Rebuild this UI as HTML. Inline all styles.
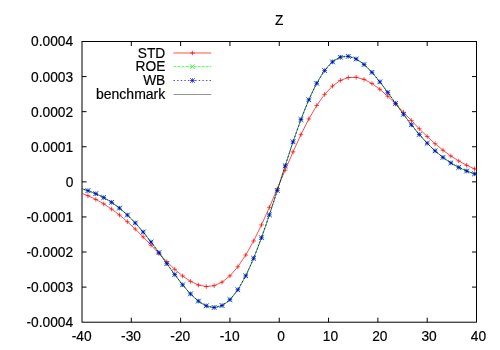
<!DOCTYPE html><html><head><meta charset="utf-8"><style>html,body{margin:0;padding:0;background:#fff}svg{display:block;filter:blur(0.35px)}text{font-family:"Liberation Sans",sans-serif;font-size:13.75px;fill:#000;stroke:#000;stroke-width:0.18px}</style></head><body>
<svg width="500" height="350" viewBox="0 0 500 350">
<rect width="500" height="350" fill="#fff"/>
<defs><clipPath id="c"><rect x="82.0" y="41.5" width="394.5" height="280.7"/></clipPath></defs>
<path d="M131.31,322.20 v-4.5 M131.31,41.50 v4.5 M82.00,76.59 h4.5 M476.50,76.59 h-4.5 M180.62,322.20 v-4.5 M180.62,41.50 v4.5 M82.00,111.67 h4.5 M476.50,111.67 h-4.5 M229.94,322.20 v-4.5 M229.94,41.50 v4.5 M82.00,146.76 h4.5 M476.50,146.76 h-4.5 M279.25,322.20 v-4.5 M279.25,41.50 v4.5 M82.00,181.85 h4.5 M476.50,181.85 h-4.5 M328.56,322.20 v-4.5 M328.56,41.50 v4.5 M82.00,216.94 h4.5 M476.50,216.94 h-4.5 M377.88,322.20 v-4.5 M377.88,41.50 v4.5 M82.00,252.02 h4.5 M476.50,252.02 h-4.5 M427.19,322.20 v-4.5 M427.19,41.50 v4.5 M82.00,287.11 h4.5 M476.50,287.11 h-4.5" stroke="#000" stroke-width="1" fill="none"/>
<rect x="82.0" y="41.5" width="394.5" height="280.7" fill="none" stroke="#000" stroke-width="1"/>
<text x="73.1" y="46.2" text-anchor="end">0.0004</text>
<text x="73.1" y="81.6" text-anchor="end">0.0003</text>
<text x="73.1" y="116.7" text-anchor="end">0.0002</text>
<text x="73.1" y="151.8" text-anchor="end">0.0001</text>
<text x="73.5" y="186.6" text-anchor="end">0</text>
<text x="73.1" y="221.7" text-anchor="end">-0.0001</text>
<text x="73.1" y="256.8" text-anchor="end">-0.0002</text>
<text x="73.1" y="291.9" text-anchor="end">-0.0003</text>
<text x="73.1" y="326.9" text-anchor="end">-0.0004</text>
<text x="81.7" y="340.7" text-anchor="middle">-40</text>
<text x="131.0" y="340.7" text-anchor="middle">-30</text>
<text x="180.3" y="340.7" text-anchor="middle">-20</text>
<text x="229.6" y="340.7" text-anchor="middle">-10</text>
<text x="281.1" y="340.7" text-anchor="middle">0</text>
<text x="330.5" y="340.7" text-anchor="middle">10</text>
<text x="379.8" y="340.7" text-anchor="middle">20</text>
<text x="429.1" y="340.7" text-anchor="middle">30</text>
<text x="478.4" y="340.7" text-anchor="middle">40</text>
<text x="279.2" y="25.3" text-anchor="middle">Z</text>
<text x="165.3" y="57.5" text-anchor="end">STD</text>
<text x="165.3" y="71.4" text-anchor="end">ROE</text>
<text x="165.3" y="85.1" text-anchor="end">WB</text>
<text x="165.3" y="99.4" text-anchor="end" style="font-size:14.02px">benchmark</text>
<g fill="none" stroke-width="0.7">
<path d="M173.5,53 H211.3" stroke="#f00"/>
<path d="M190.10,53.00 h4.60 M192.40,50.70 v4.60" stroke="#f00"/>
<path d="M173.5,66.65 H211.3" stroke="#0f0" stroke-dasharray="2.9,1.15"/>
<path d="M190.10,64.35 l4.60,4.60 M190.10,68.95 l4.60,-4.60" stroke="#0f0"/>
<path d="M173.5,80.5 H211.3" stroke="#00f" stroke-dasharray="1.5,2.1"/>
<path d="M190.10,80.50 h4.60 M192.40,78.20 v4.60 M190.10,78.20 l4.60,4.60 M190.10,82.80 l4.60,-4.60" stroke="#00f"/>
<path d="M173.5,94.5 H211.3" stroke="#000" stroke-width="0.42"/>
<g clip-path="url(#c)">
<path d="M80.03,192.61 L87.92,195.70 L95.81,199.44 L103.70,203.89 L111.59,209.08 L119.48,215.03 L127.37,221.72 L135.26,229.07 L143.15,236.95 L151.04,245.18 L158.93,253.53 L166.82,261.68 L174.71,269.30 L182.60,276.00 L190.49,281.37 L198.38,285.01 L206.27,286.56 L214.16,285.68 L222.05,282.16 L229.94,275.87 L237.83,266.79 L245.72,255.07 L253.61,240.97 L261.50,224.89 L269.39,207.32 L277.28,188.87 L285.17,170.17 L293.06,151.88 L300.95,134.63 L308.84,119.00 L316.73,105.46 L324.62,94.38 L332.51,86.00 L340.40,80.40 L348.29,77.56 L356.18,77.31 L364.07,79.41 L371.96,83.52 L379.85,89.26 L387.74,96.23 L395.63,104.02 L403.52,112.25 L411.41,120.60 L419.30,128.76 L427.19,136.53 L435.08,143.72 L442.97,150.22 L450.86,155.99 L458.75,160.99 L466.64,165.26 L474.53,168.83 L482.42,171.77" stroke="#f00"/>
<path d="M77.73,192.61 h4.60 M80.03,190.31 v4.60 M85.62,195.70 h4.60 M87.92,193.40 v4.60 M93.51,199.44 h4.60 M95.81,197.14 v4.60 M101.40,203.89 h4.60 M103.70,201.59 v4.60 M109.29,209.08 h4.60 M111.59,206.78 v4.60 M117.18,215.03 h4.60 M119.48,212.73 v4.60 M125.07,221.72 h4.60 M127.37,219.42 v4.60 M132.96,229.07 h4.60 M135.26,226.77 v4.60 M140.85,236.95 h4.60 M143.15,234.65 v4.60 M148.74,245.18 h4.60 M151.04,242.88 v4.60 M156.63,253.53 h4.60 M158.93,251.23 v4.60 M164.52,261.68 h4.60 M166.82,259.38 v4.60 M172.41,269.30 h4.60 M174.71,267.00 v4.60 M180.30,276.00 h4.60 M182.60,273.70 v4.60 M188.19,281.37 h4.60 M190.49,279.07 v4.60 M196.08,285.01 h4.60 M198.38,282.71 v4.60 M203.97,286.56 h4.60 M206.27,284.26 v4.60 M211.86,285.68 h4.60 M214.16,283.38 v4.60 M219.75,282.16 h4.60 M222.05,279.86 v4.60 M227.64,275.87 h4.60 M229.94,273.57 v4.60 M235.53,266.79 h4.60 M237.83,264.49 v4.60 M243.42,255.07 h4.60 M245.72,252.77 v4.60 M251.31,240.97 h4.60 M253.61,238.67 v4.60 M259.20,224.89 h4.60 M261.50,222.59 v4.60 M267.09,207.32 h4.60 M269.39,205.02 v4.60 M274.98,188.87 h4.60 M277.28,186.57 v4.60 M282.87,170.17 h4.60 M285.17,167.87 v4.60 M290.76,151.88 h4.60 M293.06,149.58 v4.60 M298.65,134.63 h4.60 M300.95,132.33 v4.60 M306.54,119.00 h4.60 M308.84,116.70 v4.60 M314.43,105.46 h4.60 M316.73,103.16 v4.60 M322.32,94.38 h4.60 M324.62,92.08 v4.60 M330.21,86.00 h4.60 M332.51,83.70 v4.60 M338.10,80.40 h4.60 M340.40,78.10 v4.60 M345.99,77.56 h4.60 M348.29,75.26 v4.60 M353.88,77.31 h4.60 M356.18,75.01 v4.60 M361.77,79.41 h4.60 M364.07,77.11 v4.60 M369.66,83.52 h4.60 M371.96,81.22 v4.60 M377.55,89.26 h4.60 M379.85,86.96 v4.60 M385.44,96.23 h4.60 M387.74,93.93 v4.60 M393.33,104.02 h4.60 M395.63,101.72 v4.60 M401.22,112.25 h4.60 M403.52,109.95 v4.60 M409.11,120.60 h4.60 M411.41,118.30 v4.60 M417.00,128.76 h4.60 M419.30,126.46 v4.60 M424.89,136.53 h4.60 M427.19,134.23 v4.60 M432.78,143.72 h4.60 M435.08,141.42 v4.60 M440.67,150.22 h4.60 M442.97,147.92 v4.60 M448.56,155.99 h4.60 M450.86,153.69 v4.60 M456.45,160.99 h4.60 M458.75,158.69 v4.60 M464.34,165.26 h4.60 M466.64,162.96 v4.60 M472.23,168.83 h4.60 M474.53,166.53 v4.60 M480.12,171.77 h4.60 M482.42,169.47 v4.60" stroke="#f00"/>
<path d="M80.03,188.27 L87.92,190.64 L95.81,193.70 L103.70,197.55 L111.59,202.33 L119.48,208.13 L127.37,215.02 L135.26,223.00 L143.15,232.03 L151.04,241.98 L158.93,252.62 L166.82,263.61 L174.71,274.52 L182.60,284.81 L190.49,293.89 L198.38,301.11 L206.27,305.83 L214.16,307.46 L222.05,305.51 L229.94,299.65 L237.83,289.73 L245.72,275.85 L253.61,258.32 L261.50,237.72 L269.39,214.80 L277.28,190.50 L285.17,165.82 L293.06,141.83 L300.95,119.52 L308.84,99.77 L316.73,83.29 L324.62,70.57 L332.51,61.87 L340.40,57.20 L348.29,56.37 L356.18,58.98 L364.07,64.52 L371.96,72.37 L379.85,81.88 L387.74,92.42 L395.63,103.40 L403.52,114.33 L411.41,124.79 L419.30,134.48 L427.19,143.21 L435.08,150.86 L442.97,157.42 L450.86,162.90 L458.75,167.40 L466.64,171.00 L474.53,173.84 L482.42,176.02" stroke="#0f0" stroke-dasharray="2.9,1.15"/>
<path d="M77.73,185.97 l4.60,4.60 M77.73,190.57 l4.60,-4.60 M85.62,188.34 l4.60,4.60 M85.62,192.94 l4.60,-4.60 M93.51,191.40 l4.60,4.60 M93.51,196.00 l4.60,-4.60 M101.40,195.25 l4.60,4.60 M101.40,199.85 l4.60,-4.60 M109.29,200.03 l4.60,4.60 M109.29,204.63 l4.60,-4.60 M117.18,205.83 l4.60,4.60 M117.18,210.43 l4.60,-4.60 M125.07,212.72 l4.60,4.60 M125.07,217.32 l4.60,-4.60 M132.96,220.70 l4.60,4.60 M132.96,225.30 l4.60,-4.60 M140.85,229.73 l4.60,4.60 M140.85,234.33 l4.60,-4.60 M148.74,239.68 l4.60,4.60 M148.74,244.28 l4.60,-4.60 M156.63,250.32 l4.60,4.60 M156.63,254.92 l4.60,-4.60 M164.52,261.31 l4.60,4.60 M164.52,265.91 l4.60,-4.60 M172.41,272.22 l4.60,4.60 M172.41,276.82 l4.60,-4.60 M180.30,282.51 l4.60,4.60 M180.30,287.11 l4.60,-4.60 M188.19,291.59 l4.60,4.60 M188.19,296.19 l4.60,-4.60 M196.08,298.81 l4.60,4.60 M196.08,303.41 l4.60,-4.60 M203.97,303.53 l4.60,4.60 M203.97,308.13 l4.60,-4.60 M211.86,305.16 l4.60,4.60 M211.86,309.76 l4.60,-4.60 M219.75,303.21 l4.60,4.60 M219.75,307.81 l4.60,-4.60 M227.64,297.35 l4.60,4.60 M227.64,301.95 l4.60,-4.60 M235.53,287.43 l4.60,4.60 M235.53,292.03 l4.60,-4.60 M243.42,273.55 l4.60,4.60 M243.42,278.15 l4.60,-4.60 M251.31,256.02 l4.60,4.60 M251.31,260.62 l4.60,-4.60 M259.20,235.42 l4.60,4.60 M259.20,240.02 l4.60,-4.60 M267.09,212.50 l4.60,4.60 M267.09,217.10 l4.60,-4.60 M274.98,188.20 l4.60,4.60 M274.98,192.80 l4.60,-4.60 M282.87,163.52 l4.60,4.60 M282.87,168.12 l4.60,-4.60 M290.76,139.53 l4.60,4.60 M290.76,144.13 l4.60,-4.60 M298.65,117.22 l4.60,4.60 M298.65,121.82 l4.60,-4.60 M306.54,97.47 l4.60,4.60 M306.54,102.07 l4.60,-4.60 M314.43,80.99 l4.60,4.60 M314.43,85.59 l4.60,-4.60 M322.32,68.27 l4.60,4.60 M322.32,72.87 l4.60,-4.60 M330.21,59.57 l4.60,4.60 M330.21,64.17 l4.60,-4.60 M338.10,54.90 l4.60,4.60 M338.10,59.50 l4.60,-4.60 M345.99,54.07 l4.60,4.60 M345.99,58.67 l4.60,-4.60 M353.88,56.68 l4.60,4.60 M353.88,61.28 l4.60,-4.60 M361.77,62.22 l4.60,4.60 M361.77,66.82 l4.60,-4.60 M369.66,70.07 l4.60,4.60 M369.66,74.67 l4.60,-4.60 M377.55,79.58 l4.60,4.60 M377.55,84.18 l4.60,-4.60 M385.44,90.12 l4.60,4.60 M385.44,94.72 l4.60,-4.60 M393.33,101.10 l4.60,4.60 M393.33,105.70 l4.60,-4.60 M401.22,112.03 l4.60,4.60 M401.22,116.63 l4.60,-4.60 M409.11,122.49 l4.60,4.60 M409.11,127.09 l4.60,-4.60 M417.00,132.18 l4.60,4.60 M417.00,136.78 l4.60,-4.60 M424.89,140.91 l4.60,4.60 M424.89,145.51 l4.60,-4.60 M432.78,148.56 l4.60,4.60 M432.78,153.16 l4.60,-4.60 M440.67,155.12 l4.60,4.60 M440.67,159.72 l4.60,-4.60 M448.56,160.60 l4.60,4.60 M448.56,165.20 l4.60,-4.60 M456.45,165.10 l4.60,4.60 M456.45,169.70 l4.60,-4.60 M464.34,168.70 l4.60,4.60 M464.34,173.30 l4.60,-4.60 M472.23,171.54 l4.60,4.60 M472.23,176.14 l4.60,-4.60 M480.12,173.72 l4.60,4.60 M480.12,178.32 l4.60,-4.60" stroke="#0f0"/>
<path d="M80.03,188.27 L87.92,190.64 L95.81,193.70 L103.70,197.55 L111.59,202.33 L119.48,208.13 L127.37,215.02 L135.26,223.00 L143.15,232.03 L151.04,241.98 L158.93,252.62 L166.82,263.61 L174.71,274.52 L182.60,284.81 L190.49,293.89 L198.38,301.11 L206.27,305.83 L214.16,307.46 L222.05,305.51 L229.94,299.65 L237.83,289.73 L245.72,275.85 L253.61,258.32 L261.50,237.72 L269.39,214.80 L277.28,190.50 L285.17,165.82 L293.06,141.83 L300.95,119.52 L308.84,99.77 L316.73,83.29 L324.62,70.57 L332.51,61.87 L340.40,57.20 L348.29,56.37 L356.18,58.98 L364.07,64.52 L371.96,72.37 L379.85,81.88 L387.74,92.42 L395.63,103.40 L403.52,114.33 L411.41,124.79 L419.30,134.48 L427.19,143.21 L435.08,150.86 L442.97,157.42 L450.86,162.90 L458.75,167.40 L466.64,171.00 L474.53,173.84 L482.42,176.02" stroke="#00f" stroke-dasharray="1.5,2.1"/>
<path d="M77.73,188.27 h4.60 M80.03,185.97 v4.60 M77.73,185.97 l4.60,4.60 M77.73,190.57 l4.60,-4.60 M85.62,190.64 h4.60 M87.92,188.34 v4.60 M85.62,188.34 l4.60,4.60 M85.62,192.94 l4.60,-4.60 M93.51,193.70 h4.60 M95.81,191.40 v4.60 M93.51,191.40 l4.60,4.60 M93.51,196.00 l4.60,-4.60 M101.40,197.55 h4.60 M103.70,195.25 v4.60 M101.40,195.25 l4.60,4.60 M101.40,199.85 l4.60,-4.60 M109.29,202.33 h4.60 M111.59,200.03 v4.60 M109.29,200.03 l4.60,4.60 M109.29,204.63 l4.60,-4.60 M117.18,208.13 h4.60 M119.48,205.83 v4.60 M117.18,205.83 l4.60,4.60 M117.18,210.43 l4.60,-4.60 M125.07,215.02 h4.60 M127.37,212.72 v4.60 M125.07,212.72 l4.60,4.60 M125.07,217.32 l4.60,-4.60 M132.96,223.00 h4.60 M135.26,220.70 v4.60 M132.96,220.70 l4.60,4.60 M132.96,225.30 l4.60,-4.60 M140.85,232.03 h4.60 M143.15,229.73 v4.60 M140.85,229.73 l4.60,4.60 M140.85,234.33 l4.60,-4.60 M148.74,241.98 h4.60 M151.04,239.68 v4.60 M148.74,239.68 l4.60,4.60 M148.74,244.28 l4.60,-4.60 M156.63,252.62 h4.60 M158.93,250.32 v4.60 M156.63,250.32 l4.60,4.60 M156.63,254.92 l4.60,-4.60 M164.52,263.61 h4.60 M166.82,261.31 v4.60 M164.52,261.31 l4.60,4.60 M164.52,265.91 l4.60,-4.60 M172.41,274.52 h4.60 M174.71,272.22 v4.60 M172.41,272.22 l4.60,4.60 M172.41,276.82 l4.60,-4.60 M180.30,284.81 h4.60 M182.60,282.51 v4.60 M180.30,282.51 l4.60,4.60 M180.30,287.11 l4.60,-4.60 M188.19,293.89 h4.60 M190.49,291.59 v4.60 M188.19,291.59 l4.60,4.60 M188.19,296.19 l4.60,-4.60 M196.08,301.11 h4.60 M198.38,298.81 v4.60 M196.08,298.81 l4.60,4.60 M196.08,303.41 l4.60,-4.60 M203.97,305.83 h4.60 M206.27,303.53 v4.60 M203.97,303.53 l4.60,4.60 M203.97,308.13 l4.60,-4.60 M211.86,307.46 h4.60 M214.16,305.16 v4.60 M211.86,305.16 l4.60,4.60 M211.86,309.76 l4.60,-4.60 M219.75,305.51 h4.60 M222.05,303.21 v4.60 M219.75,303.21 l4.60,4.60 M219.75,307.81 l4.60,-4.60 M227.64,299.65 h4.60 M229.94,297.35 v4.60 M227.64,297.35 l4.60,4.60 M227.64,301.95 l4.60,-4.60 M235.53,289.73 h4.60 M237.83,287.43 v4.60 M235.53,287.43 l4.60,4.60 M235.53,292.03 l4.60,-4.60 M243.42,275.85 h4.60 M245.72,273.55 v4.60 M243.42,273.55 l4.60,4.60 M243.42,278.15 l4.60,-4.60 M251.31,258.32 h4.60 M253.61,256.02 v4.60 M251.31,256.02 l4.60,4.60 M251.31,260.62 l4.60,-4.60 M259.20,237.72 h4.60 M261.50,235.42 v4.60 M259.20,235.42 l4.60,4.60 M259.20,240.02 l4.60,-4.60 M267.09,214.80 h4.60 M269.39,212.50 v4.60 M267.09,212.50 l4.60,4.60 M267.09,217.10 l4.60,-4.60 M274.98,190.50 h4.60 M277.28,188.20 v4.60 M274.98,188.20 l4.60,4.60 M274.98,192.80 l4.60,-4.60 M282.87,165.82 h4.60 M285.17,163.52 v4.60 M282.87,163.52 l4.60,4.60 M282.87,168.12 l4.60,-4.60 M290.76,141.83 h4.60 M293.06,139.53 v4.60 M290.76,139.53 l4.60,4.60 M290.76,144.13 l4.60,-4.60 M298.65,119.52 h4.60 M300.95,117.22 v4.60 M298.65,117.22 l4.60,4.60 M298.65,121.82 l4.60,-4.60 M306.54,99.77 h4.60 M308.84,97.47 v4.60 M306.54,97.47 l4.60,4.60 M306.54,102.07 l4.60,-4.60 M314.43,83.29 h4.60 M316.73,80.99 v4.60 M314.43,80.99 l4.60,4.60 M314.43,85.59 l4.60,-4.60 M322.32,70.57 h4.60 M324.62,68.27 v4.60 M322.32,68.27 l4.60,4.60 M322.32,72.87 l4.60,-4.60 M330.21,61.87 h4.60 M332.51,59.57 v4.60 M330.21,59.57 l4.60,4.60 M330.21,64.17 l4.60,-4.60 M338.10,57.20 h4.60 M340.40,54.90 v4.60 M338.10,54.90 l4.60,4.60 M338.10,59.50 l4.60,-4.60 M345.99,56.37 h4.60 M348.29,54.07 v4.60 M345.99,54.07 l4.60,4.60 M345.99,58.67 l4.60,-4.60 M353.88,58.98 h4.60 M356.18,56.68 v4.60 M353.88,56.68 l4.60,4.60 M353.88,61.28 l4.60,-4.60 M361.77,64.52 h4.60 M364.07,62.22 v4.60 M361.77,62.22 l4.60,4.60 M361.77,66.82 l4.60,-4.60 M369.66,72.37 h4.60 M371.96,70.07 v4.60 M369.66,70.07 l4.60,4.60 M369.66,74.67 l4.60,-4.60 M377.55,81.88 h4.60 M379.85,79.58 v4.60 M377.55,79.58 l4.60,4.60 M377.55,84.18 l4.60,-4.60 M385.44,92.42 h4.60 M387.74,90.12 v4.60 M385.44,90.12 l4.60,4.60 M385.44,94.72 l4.60,-4.60 M393.33,103.40 h4.60 M395.63,101.10 v4.60 M393.33,101.10 l4.60,4.60 M393.33,105.70 l4.60,-4.60 M401.22,114.33 h4.60 M403.52,112.03 v4.60 M401.22,112.03 l4.60,4.60 M401.22,116.63 l4.60,-4.60 M409.11,124.79 h4.60 M411.41,122.49 v4.60 M409.11,122.49 l4.60,4.60 M409.11,127.09 l4.60,-4.60 M417.00,134.48 h4.60 M419.30,132.18 v4.60 M417.00,132.18 l4.60,4.60 M417.00,136.78 l4.60,-4.60 M424.89,143.21 h4.60 M427.19,140.91 v4.60 M424.89,140.91 l4.60,4.60 M424.89,145.51 l4.60,-4.60 M432.78,150.86 h4.60 M435.08,148.56 v4.60 M432.78,148.56 l4.60,4.60 M432.78,153.16 l4.60,-4.60 M440.67,157.42 h4.60 M442.97,155.12 v4.60 M440.67,155.12 l4.60,4.60 M440.67,159.72 l4.60,-4.60 M448.56,162.90 h4.60 M450.86,160.60 v4.60 M448.56,160.60 l4.60,4.60 M448.56,165.20 l4.60,-4.60 M456.45,167.40 h4.60 M458.75,165.10 v4.60 M456.45,165.10 l4.60,4.60 M456.45,169.70 l4.60,-4.60 M464.34,171.00 h4.60 M466.64,168.70 v4.60 M464.34,168.70 l4.60,4.60 M464.34,173.30 l4.60,-4.60 M472.23,173.84 h4.60 M474.53,171.54 v4.60 M472.23,171.54 l4.60,4.60 M472.23,176.14 l4.60,-4.60 M480.12,176.02 h4.60 M482.42,173.72 v4.60 M480.12,173.72 l4.60,4.60 M480.12,178.32 l4.60,-4.60" stroke="#00f"/>
<path d="M77.07,187.54 L77.56,187.65 L78.06,187.77 L78.55,187.89 L79.04,188.02 L79.53,188.14 L80.03,188.27 L80.52,188.40 L81.01,188.54 L81.51,188.67 L82.00,188.81 L82.49,188.95 L82.99,189.09 L83.48,189.23 L83.97,189.38 L84.47,189.53 L84.96,189.68 L85.45,189.83 L85.94,189.99 L86.44,190.15 L86.93,190.31 L87.42,190.47 L87.92,190.64 L88.41,190.81 L88.90,190.98 L89.40,191.16 L89.89,191.34 L90.38,191.52 L90.88,191.70 L91.37,191.89 L91.86,192.08 L92.36,192.27 L92.85,192.46 L93.34,192.66 L93.83,192.86 L94.33,193.06 L94.82,193.27 L95.31,193.48 L95.81,193.70 L96.30,193.91 L96.79,194.13 L97.29,194.35 L97.78,194.58 L98.27,194.81 L98.77,195.04 L99.26,195.28 L99.75,195.52 L100.25,195.76 L100.74,196.00 L101.23,196.25 L101.72,196.51 L102.22,196.76 L102.71,197.02 L103.20,197.29 L103.70,197.55 L104.19,197.82 L104.68,198.10 L105.18,198.38 L105.67,198.66 L106.16,198.94 L106.66,199.23 L107.15,199.53 L107.64,199.82 L108.14,200.12 L108.63,200.43 L109.12,200.74 L109.62,201.05 L110.11,201.36 L110.60,201.68 L111.09,202.01 L111.59,202.33 L112.08,202.67 L112.57,203.00 L113.07,203.34 L113.56,203.69 L114.05,204.03 L114.55,204.39 L115.04,204.74 L115.53,205.10 L116.03,205.47 L116.52,205.83 L117.01,206.21 L117.51,206.58 L118.00,206.97 L118.49,207.35 L118.98,207.74 L119.48,208.13 L119.97,208.53 L120.46,208.93 L120.96,209.34 L121.45,209.75 L121.94,210.17 L122.44,210.59 L122.93,211.01 L123.42,211.44 L123.92,211.87 L124.41,212.31 L124.90,212.75 L125.40,213.19 L125.89,213.64 L126.38,214.10 L126.87,214.55 L127.37,215.02 L127.86,215.48 L128.35,215.96 L128.85,216.43 L129.34,216.91 L129.83,217.39 L130.33,217.88 L130.82,218.38 L131.31,218.87 L131.81,219.37 L132.30,219.88 L132.79,220.39 L133.28,220.90 L133.78,221.42 L134.27,221.94 L134.76,222.47 L135.26,223.00 L135.75,223.54 L136.24,224.07 L136.74,224.62 L137.23,225.16 L137.72,225.72 L138.22,226.27 L138.71,226.83 L139.20,227.39 L139.70,227.96 L140.19,228.53 L140.68,229.10 L141.18,229.68 L141.67,230.27 L142.16,230.85 L142.65,231.44 L143.15,232.03 L143.64,232.63 L144.13,233.23 L144.63,233.84 L145.12,234.44 L145.61,235.05 L146.11,235.67 L146.60,236.29 L147.09,236.91 L147.59,237.53 L148.08,238.16 L148.57,238.79 L149.06,239.42 L149.56,240.06 L150.05,240.70 L150.54,241.34 L151.04,241.98 L151.53,242.63 L152.02,243.28 L152.52,243.93 L153.01,244.59 L153.50,245.25 L154.00,245.91 L154.49,246.57 L154.98,247.23 L155.48,247.90 L155.97,248.57 L156.46,249.24 L156.95,249.91 L157.45,250.59 L157.94,251.26 L158.43,251.94 L158.93,252.62 L159.42,253.30 L159.91,253.98 L160.41,254.67 L160.90,255.35 L161.39,256.03 L161.89,256.72 L162.38,257.41 L162.87,258.10 L163.37,258.78 L163.86,259.47 L164.35,260.16 L164.84,260.85 L165.34,261.54 L165.83,262.23 L166.32,262.92 L166.82,263.61 L167.31,264.30 L167.80,264.99 L168.30,265.68 L168.79,266.36 L169.28,267.05 L169.78,267.74 L170.27,268.42 L170.76,269.10 L171.26,269.79 L171.75,270.47 L172.24,271.15 L172.73,271.83 L173.23,272.50 L173.72,273.18 L174.21,273.85 L174.71,274.52 L175.20,275.18 L175.69,275.85 L176.19,276.51 L176.68,277.17 L177.17,277.83 L177.67,278.48 L178.16,279.13 L178.65,279.78 L179.15,280.42 L179.64,281.06 L180.13,281.70 L180.62,282.33 L181.12,282.95 L181.61,283.58 L182.10,284.20 L182.60,284.81 L183.09,285.42 L183.58,286.03 L184.08,286.63 L184.57,287.22 L185.06,287.81 L185.56,288.39 L186.05,288.97 L186.54,289.54 L187.04,290.11 L187.53,290.67 L188.02,291.22 L188.52,291.77 L189.01,292.31 L189.50,292.84 L189.99,293.37 L190.49,293.89 L190.98,294.40 L191.47,294.91 L191.97,295.41 L192.46,295.90 L192.95,296.38 L193.45,296.85 L193.94,297.32 L194.43,297.77 L194.93,298.22 L195.42,298.66 L195.91,299.09 L196.41,299.52 L196.90,299.93 L197.39,300.33 L197.88,300.73 L198.38,301.11 L198.87,301.49 L199.36,301.85 L199.86,302.21 L200.35,302.55 L200.84,302.88 L201.34,303.21 L201.83,303.52 L202.32,303.82 L202.82,304.11 L203.31,304.39 L203.80,304.66 L204.30,304.92 L204.79,305.17 L205.28,305.40 L205.77,305.62 L206.27,305.83 L206.76,306.03 L207.25,306.22 L207.75,306.39 L208.24,306.55 L208.73,306.70 L209.23,306.83 L209.72,306.96 L210.21,307.07 L210.71,307.16 L211.20,307.25 L211.69,307.32 L212.19,307.37 L212.68,307.42 L213.17,307.45 L213.66,307.46 L214.16,307.46 L214.65,307.45 L215.14,307.42 L215.64,307.38 L216.13,307.33 L216.62,307.26 L217.12,307.17 L217.61,307.07 L218.10,306.96 L218.60,306.83 L219.09,306.69 L219.58,306.53 L220.07,306.36 L220.57,306.17 L221.06,305.97 L221.55,305.75 L222.05,305.51 L222.54,305.26 L223.03,305.00 L223.53,304.72 L224.02,304.42 L224.51,304.11 L225.01,303.78 L225.50,303.44 L225.99,303.08 L226.49,302.71 L226.98,302.32 L227.47,301.91 L227.97,301.49 L228.46,301.06 L228.95,300.60 L229.44,300.13 L229.94,299.65 L230.43,299.15 L230.92,298.63 L231.42,298.10 L231.91,297.55 L232.40,296.98 L232.90,296.40 L233.39,295.81 L233.88,295.20 L234.38,294.57 L234.87,293.92 L235.36,293.26 L235.85,292.59 L236.35,291.90 L236.84,291.19 L237.33,290.47 L237.83,289.73 L238.32,288.98 L238.81,288.21 L239.31,287.42 L239.80,286.62 L240.29,285.81 L240.79,284.98 L241.28,284.13 L241.77,283.27 L242.27,282.39 L242.76,281.50 L243.25,280.60 L243.74,279.67 L244.24,278.74 L244.73,277.79 L245.22,276.82 L245.72,275.85 L246.21,274.85 L246.70,273.84 L247.20,272.82 L247.69,271.79 L248.18,270.74 L248.68,269.68 L249.17,268.60 L249.66,267.51 L250.16,266.41 L250.65,265.29 L251.14,264.16 L251.63,263.02 L252.13,261.86 L252.62,260.69 L253.11,259.51 L253.61,258.32 L254.10,257.12 L254.59,255.90 L255.09,254.67 L255.58,253.43 L256.07,252.18 L256.57,250.92 L257.06,249.65 L257.55,248.36 L258.05,247.07 L258.54,245.76 L259.03,244.45 L259.52,243.12 L260.02,241.78 L260.51,240.44 L261.00,239.08 L261.50,237.72 L261.99,236.35 L262.48,234.96 L262.98,233.57 L263.47,232.17 L263.96,230.77 L264.46,229.35 L264.95,227.93 L265.44,226.50 L265.94,225.06 L266.43,223.61 L266.92,222.16 L267.42,220.70 L267.91,219.23 L268.40,217.76 L268.89,216.29 L269.39,214.80 L269.88,213.31 L270.37,211.82 L270.87,210.32 L271.36,208.82 L271.85,207.31 L272.35,205.80 L272.84,204.28 L273.33,202.76 L273.83,201.24 L274.32,199.71 L274.81,198.18 L275.31,196.65 L275.80,195.11 L276.29,193.58 L276.78,192.04 L277.28,190.50 L277.77,188.96 L278.26,187.41 L278.76,185.87 L279.25,184.32 L279.74,182.78 L280.24,181.23 L280.73,179.69 L281.22,178.14 L281.72,176.60 L282.21,175.05 L282.70,173.51 L283.19,171.97 L283.69,170.43 L284.18,168.89 L284.67,167.36 L285.17,165.82 L285.66,164.29 L286.15,162.77 L286.65,161.24 L287.14,159.72 L287.63,158.21 L288.13,156.69 L288.62,155.18 L289.11,153.68 L289.61,152.18 L290.10,150.68 L290.59,149.19 L291.08,147.71 L291.58,146.23 L292.07,144.76 L292.56,143.29 L293.06,141.83 L293.55,140.38 L294.04,138.93 L294.54,137.49 L295.03,136.06 L295.52,134.63 L296.02,133.22 L296.51,131.81 L297.00,130.41 L297.50,129.01 L297.99,127.63 L298.48,126.26 L298.98,124.89 L299.47,123.53 L299.96,122.18 L300.45,120.85 L300.95,119.52 L301.44,118.20 L301.93,116.89 L302.43,115.60 L302.92,114.31 L303.41,113.03 L303.91,111.77 L304.40,110.52 L304.89,109.27 L305.39,108.04 L305.88,106.83 L306.37,105.62 L306.87,104.42 L307.36,103.24 L307.85,102.07 L308.34,100.91 L308.84,99.77 L309.33,98.64 L309.82,97.52 L310.32,96.41 L310.81,95.32 L311.30,94.24 L311.80,93.17 L312.29,92.12 L312.78,91.08 L313.28,90.06 L313.77,89.05 L314.26,88.05 L314.75,87.07 L315.25,86.10 L315.74,85.15 L316.23,84.21 L316.73,83.29 L317.22,82.38 L317.71,81.48 L318.21,80.61 L318.70,79.74 L319.19,78.89 L319.69,78.06 L320.18,77.24 L320.67,76.44 L321.17,75.65 L321.66,74.88 L322.15,74.12 L322.64,73.38 L323.14,72.65 L323.63,71.94 L324.12,71.25 L324.62,70.57 L325.11,69.91 L325.60,69.26 L326.10,68.63 L326.59,68.01 L327.08,67.41 L327.58,66.83 L328.07,66.26 L328.56,65.71 L329.06,65.17 L329.55,64.65 L330.04,64.15 L330.53,63.66 L331.03,63.19 L331.52,62.73 L332.01,62.29 L332.51,61.87 L333.00,61.46 L333.49,61.07 L333.99,60.69 L334.48,60.33 L334.97,59.98 L335.47,59.65 L335.96,59.34 L336.45,59.04 L336.95,58.76 L337.44,58.49 L337.93,58.24 L338.43,58.00 L338.92,57.78 L339.41,57.57 L339.90,57.38 L340.40,57.20 L340.89,57.04 L341.38,56.90 L341.88,56.76 L342.37,56.65 L342.86,56.55 L343.36,56.46 L343.85,56.39 L344.34,56.33 L344.84,56.28 L345.33,56.25 L345.82,56.24 L346.31,56.24 L346.81,56.25 L347.30,56.28 L347.79,56.32 L348.29,56.37 L348.78,56.44 L349.27,56.52 L349.77,56.61 L350.26,56.72 L350.75,56.84 L351.25,56.97 L351.74,57.12 L352.23,57.28 L352.73,57.45 L353.22,57.63 L353.71,57.83 L354.21,58.03 L354.70,58.25 L355.19,58.49 L355.68,58.73 L356.18,58.98 L356.67,59.25 L357.16,59.53 L357.66,59.82 L358.15,60.12 L358.64,60.43 L359.14,60.75 L359.63,61.08 L360.12,61.42 L360.62,61.78 L361.11,62.14 L361.60,62.51 L362.09,62.90 L362.59,63.29 L363.08,63.69 L363.57,64.10 L364.07,64.52 L364.56,64.95 L365.05,65.39 L365.55,65.84 L366.04,66.29 L366.53,66.76 L367.03,67.23 L367.52,67.71 L368.01,68.20 L368.51,68.69 L369.00,69.20 L369.49,69.71 L369.99,70.22 L370.48,70.75 L370.97,71.28 L371.46,71.82 L371.96,72.37 L372.45,72.92 L372.94,73.48 L373.44,74.04 L373.93,74.61 L374.42,75.19 L374.92,75.77 L375.41,76.36 L375.90,76.96 L376.40,77.55 L376.89,78.16 L377.38,78.77 L377.88,79.38 L378.37,80.00 L378.86,80.62 L379.35,81.25 L379.85,81.88 L380.34,82.51 L380.83,83.15 L381.33,83.79 L381.82,84.44 L382.31,85.09 L382.81,85.74 L383.30,86.40 L383.79,87.06 L384.29,87.72 L384.78,88.38 L385.27,89.05 L385.76,89.72 L386.26,90.39 L386.75,91.06 L387.24,91.74 L387.74,92.42 L388.23,93.10 L388.72,93.78 L389.22,94.46 L389.71,95.14 L390.20,95.83 L390.70,96.51 L391.19,97.20 L391.68,97.89 L392.18,98.57 L392.67,99.26 L393.16,99.95 L393.66,100.64 L394.15,101.33 L394.64,102.02 L395.13,102.71 L395.63,103.40 L396.12,104.09 L396.61,104.78 L397.11,105.47 L397.60,106.15 L398.09,106.84 L398.59,107.53 L399.08,108.21 L399.57,108.90 L400.07,109.58 L400.56,110.26 L401.05,110.94 L401.54,111.62 L402.04,112.30 L402.53,112.98 L403.02,113.65 L403.52,114.33 L404.01,115.00 L404.50,115.67 L405.00,116.33 L405.49,117.00 L405.98,117.66 L406.48,118.32 L406.97,118.98 L407.46,119.64 L407.96,120.29 L408.45,120.94 L408.94,121.59 L409.44,122.23 L409.93,122.88 L410.42,123.51 L410.91,124.15 L411.41,124.79 L411.90,125.42 L412.39,126.04 L412.89,126.67 L413.38,127.29 L413.87,127.91 L414.37,128.52 L414.86,129.14 L415.35,129.74 L415.85,130.35 L416.34,130.95 L416.83,131.55 L417.32,132.14 L417.82,132.73 L418.31,133.32 L418.80,133.90 L419.30,134.48 L419.79,135.06 L420.28,135.63 L420.78,136.19 L421.27,136.76 L421.76,137.32 L422.26,137.87 L422.75,138.43 L423.24,138.97 L423.74,139.52 L424.23,140.06 L424.72,140.59 L425.21,141.12 L425.71,141.65 L426.20,142.17 L426.69,142.69 L427.19,143.21 L427.68,143.72 L428.17,144.22 L428.67,144.73 L429.16,145.22 L429.65,145.72 L430.15,146.21 L430.64,146.69 L431.13,147.17 L431.63,147.65 L432.12,148.12 L432.61,148.59 L433.11,149.05 L433.60,149.51 L434.09,149.97 L434.58,150.42 L435.08,150.86 L435.57,151.31 L436.06,151.74 L436.56,152.18 L437.05,152.61 L437.54,153.03 L438.04,153.45 L438.53,153.87 L439.02,154.28 L439.52,154.68 L440.01,155.09 L440.50,155.49 L441.00,155.88 L441.49,156.27 L441.98,156.66 L442.47,157.04 L442.97,157.42 L443.46,157.79 L443.95,158.16 L444.45,158.53 L444.94,158.89 L445.43,159.24 L445.93,159.60 L446.42,159.95 L446.91,160.29 L447.41,160.63 L447.90,160.97 L448.39,161.30 L448.89,161.63 L449.38,161.95 L449.87,162.27 L450.36,162.59 L450.86,162.90 L451.35,163.21 L451.84,163.52 L452.34,163.82 L452.83,164.12 L453.32,164.41 L453.82,164.70 L454.31,164.98 L454.80,165.27 L455.30,165.55 L455.79,165.82 L456.28,166.09 L456.77,166.36 L457.27,166.62 L457.76,166.88 L458.25,167.14 L458.75,167.40 L459.24,167.65 L459.73,167.89 L460.23,168.14 L460.72,168.38 L461.21,168.61 L461.71,168.84 L462.20,169.07 L462.69,169.30 L463.19,169.52 L463.68,169.74 L464.17,169.96 L464.66,170.18 L465.16,170.39 L465.65,170.59 L466.14,170.80 L466.64,171.00 L467.13,171.20 L467.62,171.39 L468.12,171.59 L468.61,171.78 L469.10,171.96 L469.60,172.15 L470.09,172.33 L470.58,172.51 L471.08,172.68 L471.57,172.85 L472.06,173.02 L472.56,173.19 L473.05,173.36 L473.54,173.52 L474.03,173.68 L474.53,173.84 L475.02,173.99 L475.51,174.14 L476.01,174.29 L476.50,174.44 L476.99,174.58 L477.49,174.73 L477.98,174.87 L478.47,175.00 L478.97,175.14 L479.46,175.27 L479.95,175.40 L480.44,175.53 L480.94,175.66 L481.43,175.78" stroke="#000" stroke-width="0.46"/>
</g></g>
</svg></body></html>
